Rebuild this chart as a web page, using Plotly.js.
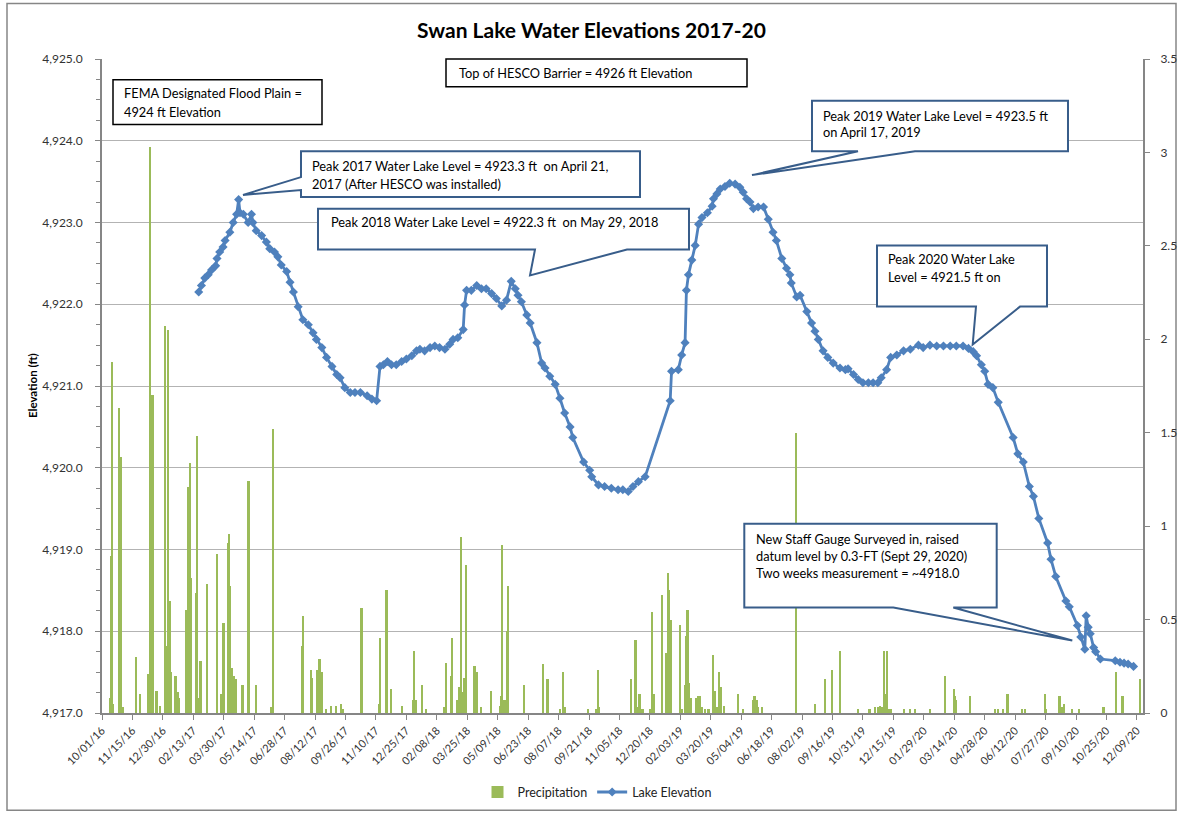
<!DOCTYPE html>
<html>
<head>
<meta charset="utf-8">
<script src="https://cdn.plot.ly/plotly-3.0.1.min.js"></script>
<style>html,body{margin:0;padding:0;background:#fff;}#chart{width:1180px;height:819px;}</style>
</head>
<body>
<div id="chart"></div>
<script>
// ---------------- DATA ----------------
const lakeDates = ['2017-02-21','2017-02-25','2017-03-02','2017-03-07','2017-03-12','2017-03-18','2017-03-20','2017-03-24','2017-03-29','2017-04-01','2017-04-08','2017-04-13','2017-04-18','2017-04-21','2017-04-23','2017-04-28','2017-05-05','2017-05-10','2017-05-12','2017-05-17','2017-05-25','2017-06-01','2017-06-06','2017-06-13','2017-06-18','2017-06-23','2017-07-01','2017-07-06','2017-07-11','2017-07-18','2017-07-25','2017-08-02','2017-08-09','2017-08-14','2017-08-22','2017-08-29','2017-09-06','2017-09-13','2017-09-18','2017-09-25','2017-10-03','2017-10-10','2017-10-18','2017-10-28','2017-11-04','2017-11-11','2017-11-16','2017-11-21','2017-11-27','2017-12-03','2017-12-10','2017-12-18','2017-12-25','2018-01-02','2018-01-09','2018-01-14','2018-01-21','2018-01-29','2018-02-05','2018-02-12','2018-02-20','2018-02-27','2018-03-04','2018-03-11','2018-03-19','2018-03-21','2018-03-24','2018-03-31','2018-04-08','2018-04-15','2018-04-22','2018-04-30','2018-05-07','2018-05-15','2018-05-22','2018-05-29','2018-06-04','2018-06-08','2018-06-13','2018-06-21','2018-06-26','2018-07-06','2018-07-13','2018-07-18','2018-07-25','2018-08-02','2018-08-09','2018-08-16','2018-08-24','2018-08-28','2018-09-13','2018-09-22','2018-09-25','2018-10-05','2018-10-14','2018-10-24','2018-11-03','2018-11-10','2018-11-18','2018-11-25','2018-12-03','2018-12-13','2019-01-19','2019-01-21','2019-01-31','2019-02-05','2019-02-10','2019-02-12','2019-02-15','2019-02-20','2019-02-25','2019-03-02','2019-03-07','2019-03-15','2019-03-22','2019-03-24','2019-03-29','2019-04-03','2019-04-10','2019-04-17','2019-04-25','2019-05-02','2019-05-07','2019-05-12','2019-05-17','2019-05-22','2019-05-29','2019-06-06','2019-06-13','2019-06-20','2019-06-25','2019-07-03','2019-07-10','2019-07-15','2019-07-17','2019-07-25','2019-07-30','2019-08-09','2019-08-16','2019-08-21','2019-08-26','2019-09-02','2019-09-09','2019-09-17','2019-09-27','2019-10-05','2019-10-09','2019-10-17','2019-10-24','2019-10-31','2019-11-08','2019-11-15','2019-11-22','2019-11-27','2019-12-05','2019-12-11','2019-12-20','2019-12-30','2020-01-09','2020-01-21','2020-01-28','2020-02-07','2020-02-17','2020-02-27','2020-03-08','2020-03-17','2020-03-27','2020-04-04','2020-04-11','2020-04-16','2020-04-23','2020-04-28','2020-05-03','2020-05-10','2020-05-18','2020-06-09','2020-06-16','2020-06-24','2020-07-03','2020-07-09','2020-07-17','2020-07-30','2020-08-04','2020-08-11','2020-08-26','2020-08-31','2020-09-12','2020-09-17','2020-09-23','2020-09-25','2020-09-28','2020-10-01','2020-10-06','2020-10-09','2020-10-16','2020-11-07','2020-11-14','2020-11-20','2020-11-26','2020-12-04'];
const lakeElev = [4922.15,4922.23,4922.32,4922.36,4922.42,4922.47,4922.56,4922.64,4922.70,4922.78,4922.88,4923.00,4923.10,4923.28,4923.12,4923.10,4923.00,4923.10,4923.00,4922.90,4922.84,4922.76,4922.68,4922.64,4922.58,4922.48,4922.40,4922.27,4922.15,4921.97,4921.81,4921.75,4921.65,4921.57,4921.47,4921.35,4921.24,4921.14,4921.10,4920.98,4920.92,4920.92,4920.92,4920.88,4920.84,4920.82,4921.24,4921.26,4921.30,4921.26,4921.26,4921.30,4921.33,4921.37,4921.43,4921.45,4921.43,4921.47,4921.49,4921.47,4921.45,4921.51,4921.57,4921.59,4921.69,4921.99,4922.17,4922.17,4922.23,4922.19,4922.19,4922.13,4922.07,4921.98,4922.05,4922.28,4922.19,4922.11,4922.03,4921.87,4921.77,4921.53,4921.28,4921.22,4921.12,4921.02,4920.85,4920.67,4920.50,4920.37,4920.07,4919.97,4919.89,4919.79,4919.77,4919.75,4919.73,4919.73,4919.71,4919.77,4919.83,4919.89,4920.82,4921.18,4921.20,4921.38,4921.53,4922.17,4922.36,4922.54,4922.72,4922.98,4923.06,4923.12,4923.20,4923.29,4923.35,4923.41,4923.44,4923.48,4923.47,4923.43,4923.37,4923.29,4923.25,4923.17,4923.19,4923.19,4923.04,4922.88,4922.78,4922.56,4922.44,4922.36,4922.26,4922.09,4922.11,4921.91,4921.77,4921.67,4921.57,4921.43,4921.35,4921.28,4921.22,4921.20,4921.21,4921.14,4921.08,4921.04,4921.04,4921.04,4921.04,4921.10,4921.20,4921.35,4921.38,4921.43,4921.45,4921.50,4921.47,4921.50,4921.49,4921.49,4921.49,4921.49,4921.49,4921.46,4921.42,4921.37,4921.26,4921.18,4921.02,4920.98,4920.80,4920.37,4920.17,4920.07,4919.77,4919.65,4919.38,4919.08,4918.88,4918.67,4918.37,4918.30,4918.07,4917.93,4917.78,4918.19,4918.05,4917.97,4917.80,4917.75,4917.66,4917.64,4917.62,4917.61,4917.60,4917.57];

const precipDates = ['2016-10-14','2016-10-15','2016-10-16','2016-10-18','2016-10-26','2016-10-27','2016-10-29','2016-11-01','2016-11-20','2016-11-21','2016-11-27','2016-12-08','2016-12-11','2016-12-15','2016-12-16','2016-12-21','2016-12-26','2017-01-02','2017-01-03','2017-01-05','2017-01-07','2017-01-09','2017-01-10','2017-01-12','2017-01-18','2017-01-21','2017-01-23','2017-02-03','2017-02-06','2017-02-09','2017-02-10','2017-02-17','2017-02-19','2017-02-21','2017-02-24','2017-03-05','2017-03-21','2017-03-27','2017-03-30','2017-04-06','2017-04-07','2017-04-08','2017-04-12','2017-04-14','2017-04-18','2017-04-27','2017-05-06','2017-05-17','2017-06-09','2017-06-11','2017-07-24','2017-07-25','2017-08-06','2017-08-08','2017-08-16','2017-08-19','2017-08-22','2017-08-29','2017-09-05','2017-09-12','2017-09-20','2017-09-22','2017-10-20','2017-11-15','2017-11-16','2017-11-26','2017-12-03','2017-12-19','2018-01-04','2018-01-06','2018-01-08','2018-01-18','2018-01-24','2018-02-19','2018-02-22','2018-03-02','2018-03-03','2018-03-10','2018-03-13','2018-03-16','2018-03-18','2018-03-21','2018-03-23','2018-04-04','2018-04-05','2018-04-08','2018-04-15','2018-04-29','2018-05-13','2018-05-15','2018-05-16','2018-05-19','2018-05-21','2018-05-23','2018-05-25','2018-06-17','2018-07-15','2018-07-22','2018-08-10','2018-08-14','2018-08-17','2018-09-20','2018-10-02','2018-10-04','2018-10-06','2018-11-22','2018-11-23','2018-11-29','2018-12-02','2018-12-05','2018-12-08','2018-12-10','2018-12-21','2018-12-24','2018-12-26','2019-01-07','2019-01-14','2019-01-16','2019-01-18','2019-01-21','2019-02-03','2019-02-05','2019-02-10','2019-02-12','2019-02-14','2019-02-16','2019-02-19','2019-02-27','2019-03-02','2019-03-04','2019-03-07','2019-03-12','2019-03-17','2019-03-24','2019-03-27','2019-03-29','2019-04-01','2019-04-05','2019-04-09','2019-04-30','2019-05-07','2019-05-22','2019-05-24','2019-05-27','2019-05-29','2019-06-04','2019-07-25','2019-08-22','2019-09-05','2019-09-16','2019-09-28','2019-10-24','2019-11-10','2019-11-18','2019-11-22','2019-11-26','2019-11-29','2019-12-01','2019-12-04','2019-12-06','2019-12-09','2019-12-12','2019-12-31','2020-01-09','2020-01-16','2020-02-07','2020-02-29','2020-03-14','2020-03-16','2020-03-17','2020-04-06','2020-05-14','2020-05-18','2020-05-25','2020-06-01','2020-06-23','2020-06-27','2020-07-27','2020-07-28','2020-08-17','2020-08-20','2020-08-24','2020-09-05','2020-09-15','2020-10-21','2020-11-08','2020-11-18','2020-12-14'];
const precipInches = [0.08,0.84,1.88,0.05,0.07,1.63,1.37,0.03,0.14,0.30,0.10,0.21,3.03,1.70,0.08,0.12,0.04,0.14,2.07,0.36,2.05,0.54,0.60,0.22,0.20,0.11,0.08,0.55,1.21,1.34,0.72,0.64,1.48,0.08,0.28,0.69,0.85,0.10,0.48,0.91,0.96,0.68,0.24,0.20,0.18,0.15,1.24,0.15,0.03,1.52,0.36,0.52,0.23,0.19,0.23,0.29,0.22,0.02,0.04,0.04,0.05,0.02,0.56,0.05,0.40,0.66,0.13,0.04,0.07,0.33,0.07,0.15,0.02,0.03,0.27,0.20,0.40,0.07,0.14,0.94,0.11,0.19,0.79,0.07,0.25,0.22,0.03,0.12,0.04,0.09,0.90,0.07,0.07,0.44,0.68,0.15,0.26,0.18,0.02,0.22,0.03,0.02,0.02,0.23,0.03,0.18,0.03,0.39,0.03,0.10,0.02,0.02,0.02,0.54,0.10,0.63,0.32,0.75,0.66,0.50,0.47,0.02,0.15,0.41,0.55,0.16,0.08,0.08,0.09,0.09,0.03,0.02,0.02,0.31,0.12,0.03,0.22,0.14,0.04,0.10,0.02,0.07,0.09,0.07,0.03,0.03,1.50,0.05,0.18,0.23,0.33,0.02,0.02,0.03,0.03,0.04,0.03,0.33,0.10,0.33,0.02,0.02,0.02,0.02,0.02,0.02,0.20,0.13,0.09,0.07,0.09,0.02,0.02,0.02,0.10,0.02,0.02,0.10,0.02,0.09,0.03,0.05,0.02,0.02,0.03,0.22,0.09,0.18];

const xTickStart = '2016-10-01';
const xRange = ['2016-10-01', '2020-12-18'];
const elevRange = [4917, 4925];
const precipRange = [0, 3.5];

// ---------------- GEOMETRY HELPERS (pixels -> paper) ----------------
const L = 102, R = 1143, T = 59, B = 718;
const W = R - L, H = B - T;
const px = x => (x - L) / W;
const py = y => (B - y) / H;
const FONT = 'Lato, "Open Sans", sans-serif';
const CALLOUT = '#385D8A';

function pathOf(pts) {
  return 'M ' + pts.map(p => px(p[0]).toFixed(5) + ',' + py(p[1]).toFixed(5)).join(' L ') + ' Z';
}
function rectShape(x0, y0, x1, y1, color, w) {
  return {type: 'rect', xref: 'paper', yref: 'paper', x0: px(x0), x1: px(x1), y0: py(y1), y1: py(y0),
          line: {color: color, width: w}, fillcolor: '#ffffff', layer: 'above'};
}
function pathShape(pts) {
  return {type: 'path', xref: 'paper', yref: 'paper', path: pathOf(pts),
          line: {color: CALLOUT, width: 2}, fillcolor: '#ffffff', layer: 'above'};
}
function label(text, x, y, size) {
  return {xref: 'paper', yref: 'paper', x: px(x), y: py(y), xanchor: 'left', yanchor: 'middle',
          text: text, showarrow: false, align: 'left', font: {family: FONT, size: size || 12.8, color: '#000'}};
}

const shapes = [
  // outer chart border
  {type: 'rect', xref: 'paper', yref: 'paper', x0: px(7), x1: px(1176), y0: py(816), y1: py(3),
   line: {color: '#868686', width: 1.5}, fillcolor: 'rgba(0,0,0,0)', layer: 'below'},
  rectShape(113, 80, 322, 125, '#000', 1.5),
  rectShape(446, 59, 747, 87, '#000', 1.5),
  // 2017 callout (pointer on left side)
  pathShape([[301, 152], [640, 152], [640, 198], [301, 198], [301, 191], [243, 196], [301, 178]]),
  // 2018 callout (pointer on bottom)
  pathShape([[318, 210], [689, 210], [689, 251], [627, 251], [530, 277], [535, 251], [318, 251]]),
  // 2019 callout
  pathShape([[812, 101], [1068, 101], [1068, 152], [915, 152], [752, 176], [858, 152], [812, 152]]),
  // 2020 callout
  pathShape([[877, 247], [1047, 247], [1047, 308.5], [1020, 308.5], [972.7, 346.7], [976, 308.5], [877, 308.5]]),
  // staff gauge callout
  pathShape([[744.3, 527.3], [996.7, 527.3], [996.7, 611.7], [953.3, 611.7], [1072.3, 645], [893.3, 611.7], [744.3, 611.7]])
];

const annotations = [
  label('FEMA Designated Flood Plain =', 122, 93),
  label('4924 ft Elevation', 122, 112),
  label('Top of HESCO Barrier = 4926 ft Elevation', 457, 73),
  label('Peak 2017 Water Lake Level = 4923.3 ft  on April 21,', 310, 167),
  label('2017 (After HESCO was installed)', 310, 185),
  label('Peak 2018 Water Lake Level = 4922.3 ft  on May 29, 2018', 329, 223),
  label('Peak 2019 Water Lake Level = 4923.5 ft', 821, 116),
  label('on April 17, 2019', 821, 133),
  label('Peak 2020 Water Lake', 886, 261),
  label('Level = 4921.5 ft on', 886, 279),
  label('New Staff Gauge Surveyed in, raised', 754, 543),
  label('datum level by 0.3-FT (Sept 29, 2020)', 754, 560),
  label('Two weeks measurement = ~4918.0', 754, 577),
  {xref: 'paper', yref: 'paper', x: px(32), y: 0.5, xanchor: 'center', yanchor: 'middle', textangle: -90,
   text: '<b>Elevation (ft)</b>', showarrow: false, font: {family: FONT, size: 11.5, color: '#000'}}
];

const traces = [
  {type: 'bar', name: 'Precipitation', x: precipDates, y: precipInches, yaxis: 'y2',
   width: 2.4 * 86400000, marker: {color: '#9BBB59', line: {width: 0}}},
  {type: 'scatter', mode: 'lines+markers', name: 'Lake Elevation', x: lakeDates, y: lakeElev,
   line: {color: '#4F81BD', width: 2.8}, marker: {symbol: 'diamond', size: 7, color: '#4F81BD'}}
];

const axisLine = '#868686';
const layout = {
  width: 1180, height: 819,
  margin: {l: L, r: 1180 - R, t: T, b: 819 - B, pad: 0},
  paper_bgcolor: '#ffffff', plot_bgcolor: '#ffffff',
  font: {family: FONT, size: 11, color: '#333'},
  title: {text: '<b>Swan Lake Water Elevations 2017-20</b>', x: 591.5 / 1180, xanchor: 'center',
          y: 1 - 31 / 819, yanchor: 'middle', font: {family: FONT, size: 21, color: '#000'}},
  showlegend: true,
  legend: {orientation: 'h', x: px(597), xanchor: 'center', y: py(798), yanchor: 'middle',
           font: {family: FONT, size: 12.5, color: '#222'}, bgcolor: 'rgba(0,0,0,0)'},
  bargap: 0,
  xaxis: {type: 'date', range: xRange, tick0: xTickStart, dtick: 45 * 86400000, tickformat: '%m/%d/%y',
          tickangle: -45, ticks: 'outside', ticklen: 5, tickcolor: axisLine, showgrid: false,
          showline: true, linecolor: axisLine, linewidth: 2, zeroline: false,
          tickfont: {family: FONT, size: 11, color: '#333'}},
  yaxis: {range: elevRange, dtick: 1, tickformat: ',.1f', ticks: 'outside', ticklen: 5, tickcolor: axisLine,
          showgrid: true, gridcolor: '#B3B3B3', gridwidth: 1, showline: true, linecolor: axisLine, linewidth: 2,
          zeroline: false, ticklabelstandoff: 10, tickfont: {family: FONT, size: 12, color: '#333'},
          minor: {dtick: 0.25, ticks: 'outside', ticklen: 4, tickcolor: axisLine, showgrid: false}},
  yaxis2: {range: precipRange, dtick: 0.5, overlaying: 'y', side: 'right', ticks: 'outside', ticklen: 5,
           tickcolor: axisLine, showgrid: false, showline: true, linecolor: axisLine, linewidth: 2,
           zeroline: false, ticklabelstandoff: 8, tickfont: {family: FONT, size: 12, color: '#333'}},
  shapes: shapes,
  annotations: annotations
};

Plotly.newPlot('chart', traces, layout, {displayModeBar: false, responsive: false});
</script>
</body>
</html>
